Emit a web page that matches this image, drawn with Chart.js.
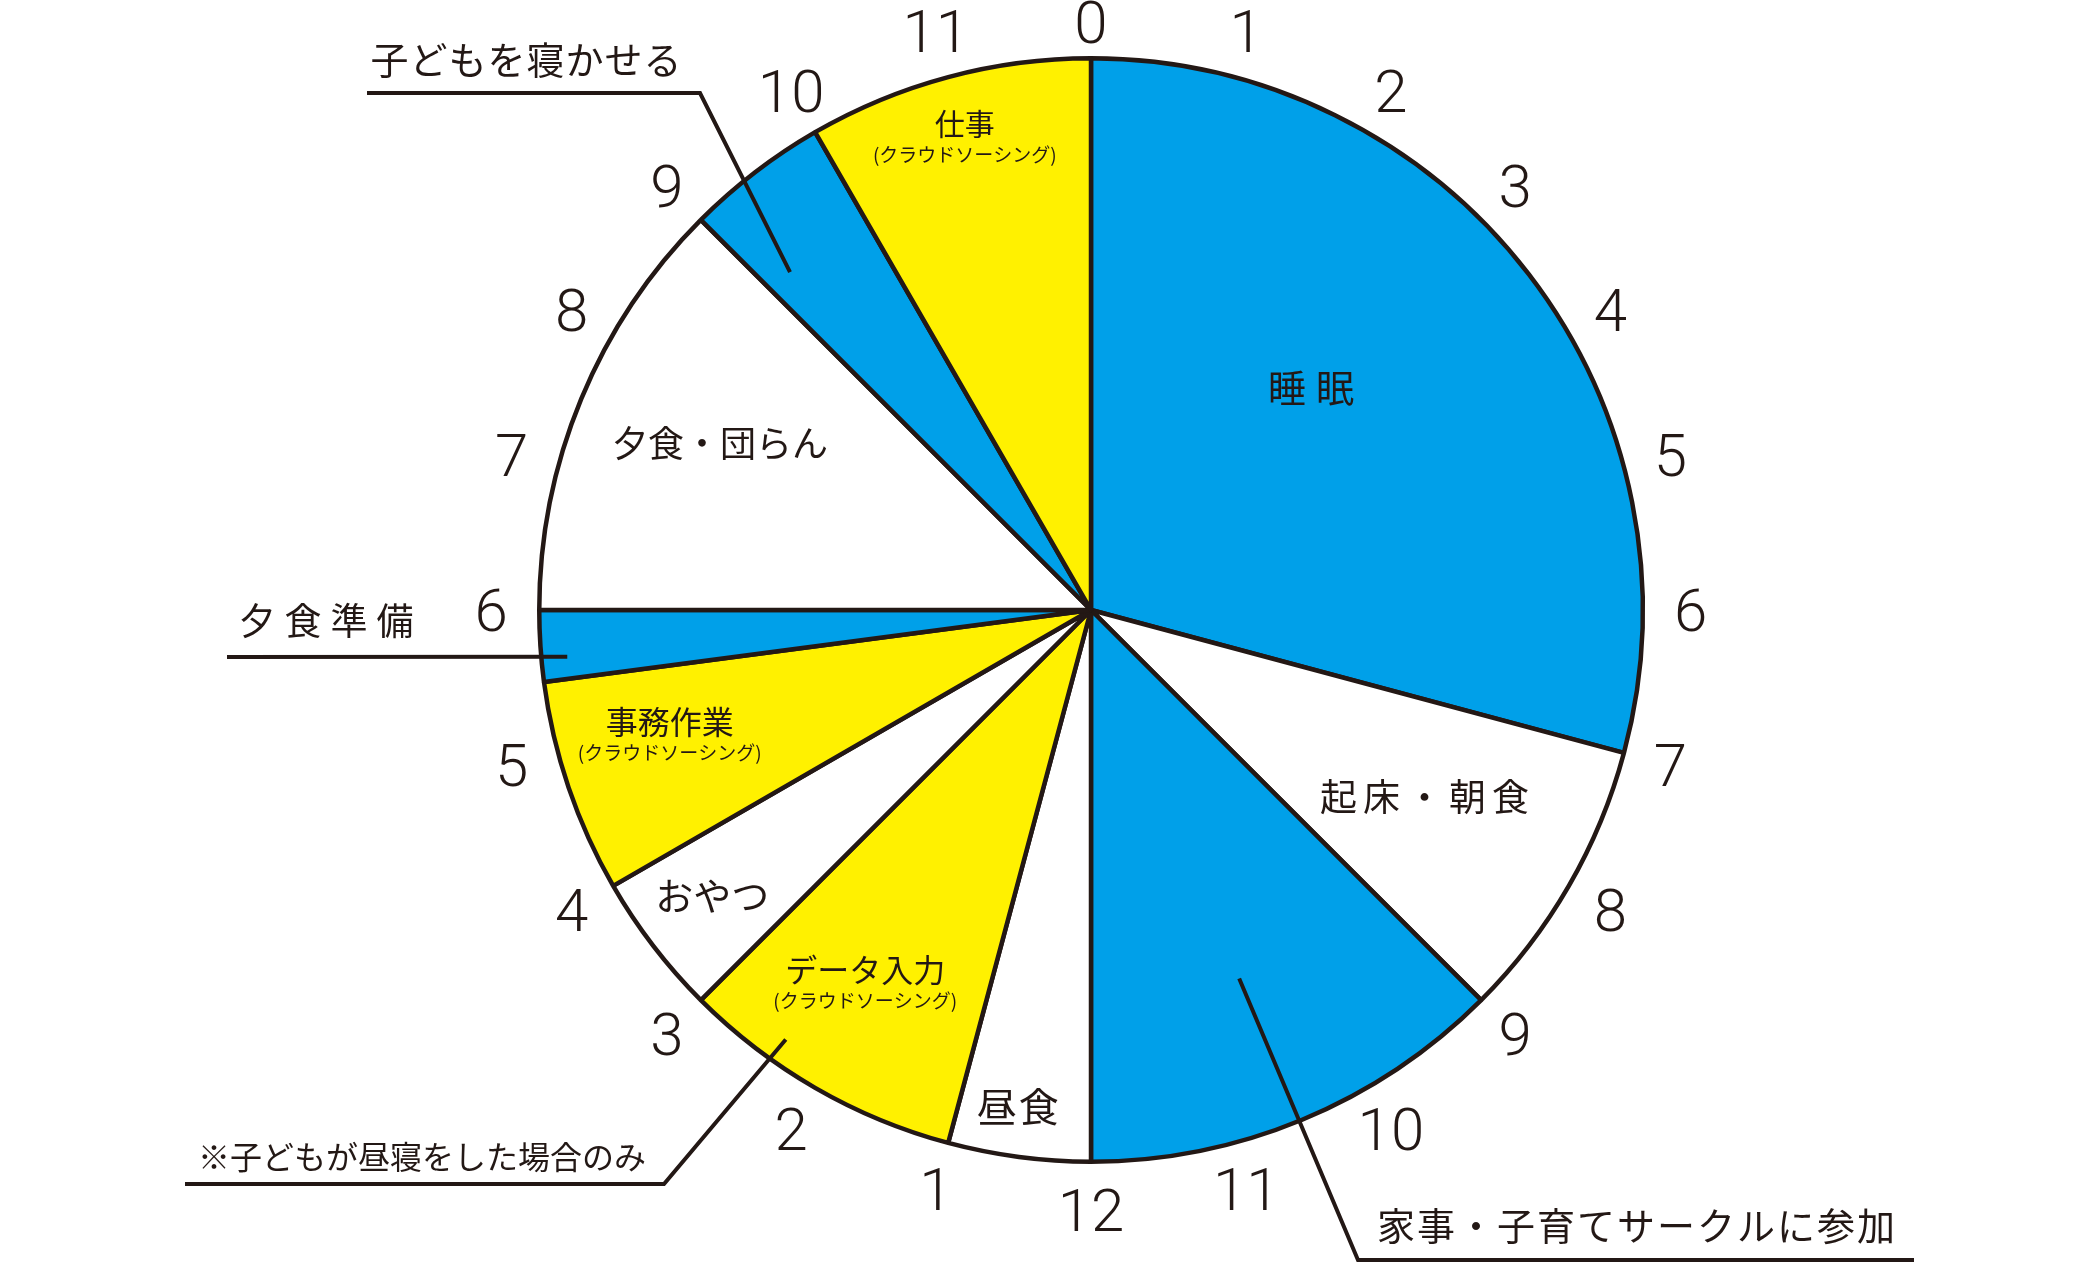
<!DOCTYPE html>
<html lang="ja">
<head>
<meta charset="utf-8">
<title>1日のスケジュール</title>
<script src="https://cdn.jsdelivr.net/npm/chart.js@4.4.1/dist/chart.umd.min.js"></script>
<style>
  html, body { margin: 0; padding: 0; background: #fff; }
  #wrap { width: 2100px; height: 1264px; }
</style>
</head>
<body>
<div id="wrap"><canvas id="clock" width="2100" height="1264"></canvas></div>
<script>
// 0時から時計回りの時間配分（時間）
const activities = [
  "睡眠", "起床・朝食", "家事・子育てサークルに参加", "昼食", "データ入力",
  "おやつ", "事務作業", "夕食準備", "夕食・団らん", "子どもを寝かせる", "仕事"
];
const hours = [7, 2, 3, 1, 2, 1, 1.5, 0.5, 3, 1, 2];
const kinds = ["blue", "white", "blue", "white", "yellow", "white", "yellow", "blue", "white", "blue", "yellow"];

// 文字盤の目盛り（0時から1時間ごと）
const hourTicks = ["0", "1", "2", "3", "4", "5", "6", "7", "8", "9", "10", "11", "12",
  "1", "2", "3", "4", "5", "6", "7", "8", "9", "10", "11"];

const SUB = "(クラウドソーシング)";
const NOTE = "※子どもが昼寝をした場合のみ";

const COLORS = { blue: "#00a0e9", yellow: "#fff100", white: "#ffffff" };
const INK = "#231815";
const JP = '"Noto Sans CJK JP", "Noto Sans", sans-serif';
const NUM = 'Roboto, "Liberation Sans", Arial, sans-serif';

// 扇の中の文字: 時刻(位置) と 半径比
const innerLabels = [
  { text: activities[0], hour: 2.98, r: 0.567, size: 38, spacing: 10 },
  { text: activities[1], hour: 7.95, r: 0.693, size: 37, spacing: 6 },
  { text: activities[3], hour: 12.56, r: 0.91, size: 40, spacing: 2 },
  { text: activities[4], hour: 14.14, r: 0.77, size: 32, sub: SUB },
  { text: activities[5], hour: 15.53, r: 0.86, size: 38 },
  { text: activities[6], hour: 17.01, r: 0.79, size: 32, sub: SUB },
  { text: activities[8], hour: 19.61, r: 0.737, size: 36 },
  { text: activities[10], hour: 23.03, r: 0.91, size: 30, sub: SUB }
];

// 引き出し線つきの文字（path は外側から扇の方へ）
const callouts = [
  { text: activities[9], hour: 21.22, r: 0.82, textX: 526, textY: 60, size: 38, spacing: 1,
    path: [[367, 93], [700, 93]] },
  { text: activities[7], hour: 17.66, r: 0.953, textX: 326, textY: 621, size: 37, spacing: 9,
    path: [[227, 657]] },
  { text: NOTE, hour: 14.36, r: 0.955, textX: 422, textY: 1157, size: 32, spacing: 0,
    path: [[185, 1184], [664, 1184]] },
  { text: activities[2], hour: 10.54, r: 0.72, textX: 1636, textY: 1226, size: 38, spacing: 2,
    path: [[1914, 1260], [1358, 1260]] }
];

function polar(arc, hour, frac) {
  const a = (hour / 24) * Math.PI * 2 - Math.PI / 2;
  const r = arc.outerRadius * frac;
  return [arc.x + Math.cos(a) * r, arc.y + Math.sin(a) * r];
}

function drawText(ctx, text, x, y, size, spacing, family) {
  ctx.font = `${size}px ${family}`;
  ctx.letterSpacing = `${spacing || 0}px`;
  ctx.textAlign = "center";
  ctx.textBaseline = "middle";
  // letterSpacing は末尾にも付くので半分ずらす
  ctx.fillText(text, x + (spacing || 0) / 2, y);
  ctx.letterSpacing = "0px";
}

const clockFace = {
  id: "clockFace",
  afterDraw(chart) {
    const ctx = chart.ctx;
    const arc = chart.getDatasetMeta(0).data[0];
    ctx.save();
    ctx.fillStyle = INK;

    // 時刻の数字（数字の高さの中央に合わせる）
    ctx.font = `300 60px ${NUM}`;
    ctx.textAlign = "center";
    ctx.textBaseline = "alphabetic";
    hourTicks.forEach((t, h) => {
      const a = (h / 24) * Math.PI * 2 - Math.PI / 2;
      const r = arc.outerRadius + 48;
      const x = arc.x + Math.cos(a) * r;
      const y = Math.max(arc.y + Math.sin(a) * r, 22);
      ctx.fillText(t, x, y + 21);
    });

    // 扇の中の文字
    innerLabels.forEach((l) => {
      const [x, y] = polar(arc, l.hour, l.r);
      drawText(ctx, l.text, x, y, l.size, l.spacing, JP);
      if (l.sub) drawText(ctx, l.sub, x, y + 31, 19, 0, JP);
    });

    // 引き出し線
    ctx.strokeStyle = INK;
    ctx.lineWidth = 4;
    ctx.lineJoin = "miter";
    callouts.forEach((c) => {
      const end = polar(arc, c.hour, c.r);
      const pts = [...c.path, end];
      ctx.beginPath();
      ctx.moveTo(pts[0][0], pts[0][1]);
      pts.slice(1).forEach((p) => ctx.lineTo(p[0], p[1]));
      ctx.stroke();
      drawText(ctx, c.text, c.textX, c.textY, c.size, c.spacing, JP);
    });

    ctx.restore();
  }
};

new Chart(document.getElementById("clock"), {
  type: "pie",
  data: {
    labels: activities,
    datasets: [{
      data: hours,
      backgroundColor: kinds.map((k) => COLORS[k]),
      borderColor: INK,
      borderWidth: 4.5,
      borderAlign: "center"
    }]
  },
  options: {
    responsive: false,
    animation: false,
    events: [],
    layout: { padding: { left: 537, right: 455, top: 56, bottom: 100 } },
    plugins: {
      legend: { display: false },
      tooltip: { enabled: false }
    }
  },
  plugins: [clockFace]
});
</script>
</body>
</html>
